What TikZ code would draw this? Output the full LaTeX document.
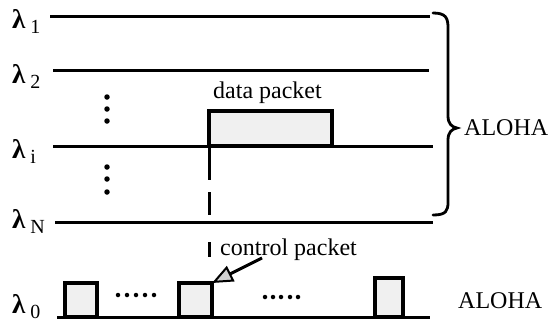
\documentclass[tikz,border=0pt]{standalone}
\usepackage{fontspec}
\setmainfont{Liberation Serif}
\usetikzlibrary{arrows.meta}
\newcommand\chanlabel[1]{{\fontsize{27}{28}\selectfont\bfseries λ}\kern5pt\raisebox{-5pt}{\fontsize{20}{20}\selectfont #1}}
\begin{document}
\begin{tikzpicture}[x=1pt,y=-1pt,
  chan/.style={line width=3pt},
  pkt/.style={draw, line width=3.2pt, fill=gray!12, outer sep=0pt, inner sep=0pt},
  lbl/.style={font=\fontsize{24}{28}\selectfont, inner sep=0pt},
  dotmark/.style={circle, fill=black, inner sep=0pt, minimum size=5.5pt},
]
\useasboundingbox (0,0) rectangle (556,325);

% wavelength labels
\node[lbl, anchor=base west] (l1) at (12,28)  {\chanlabel{1}};
\node[lbl, anchor=base west] (l2) at (12,83)  {\chanlabel{2}};
\node[lbl, anchor=base west] (li) at (12,158) {\chanlabel{i}};
\node[lbl, anchor=base west] (lN) at (12,228) {\chanlabel{N}};
\node[lbl, anchor=base west] (l0) at (12,313) {\chanlabel{0}};

% channel lines
\coordinate (s1) at (50,16);  \coordinate (e1) at (430,16);
\coordinate (s2) at (53,70);  \coordinate (e2) at (429,70);
\coordinate (si) at (53,146); \coordinate (ei) at (433,146);
\coordinate (sN) at (55,222); \coordinate (eN) at (433,222);
\coordinate (s0) at (57,317); \coordinate (e0) at (430,317);
\draw[chan] (s1) -- (e1);
\draw[chan] (s2) -- (e2);
\draw[chan] (si) -- (ei);
\draw[chan] (sN) -- (eN);
\draw[chan] (s0) -- (e0);

% vertical ellipses
\foreach \y [count=\k] in {97,109,121,167,179,192}
  \node[dotmark] (vd\k) at (107,\y) {};

% data packet on channel i
\node[pkt, anchor=south west, minimum width=123pt, minimum height=35pt] (datapkt) at (209,146) {};
\node[lbl, anchor=base west] (datalbl) at (213,98) {data packet};

% brace over the data channels
\draw[line width=2.8pt, line cap=round]
  (433,13) .. controls (446,13) and (448,18) .. (448,28) -- (448,116)
  .. controls (448,124) and (452,127) .. (457,128)
  .. controls (452,129) and (448,132) .. (448,140) -- (448,202)
  .. controls (448,211) and (446,215) .. (433,215);
\node[lbl, anchor=west] (aloha1) at (464,128) {ALOHA};

% control packets on channel 0
\node[pkt, anchor=south west, minimum width=32pt, minimum height=34pt] (c1) at (65,317) {};
\node[pkt, anchor=south west, minimum width=33pt, minimum height=34pt] (c2) at (179,317) {};
\node[pkt, anchor=south west, minimum width=28pt, minimum height=39pt] (c3) at (375,317) {};
\foreach \x [count=\k] in {118,127,136,145,154}
  \node[dotmark, minimum size=4.5pt] (ha\k) at (\x,295) {};
\foreach \x [count=\k] in {265,273,281,290,298}
  \node[dotmark, minimum size=4.5pt] (hb\k) at (\x,297) {};
\node[lbl, anchor=base west] (aloha0) at (458,308) {ALOHA};

% timing link from the data packet to its control packet
\coordinate (ctlbar) at (209,257);
\draw[line width=3pt, dash pattern=on 34pt off 12pt on 23pt off 27pt on 15pt off 100pt]
  (datapkt.south west) -- (ctlbar);
\node[lbl, anchor=base west] (ctllbl) at (220,255) {control packet};
\coordinate (arrtail) at (262,258);
\draw[line width=3pt, -{Triangle[length=21pt, width=17pt, fill=gray!35, line width=2pt]}]
  (arrtail) -- (c2.north east);
\end{tikzpicture}
\end{document}
